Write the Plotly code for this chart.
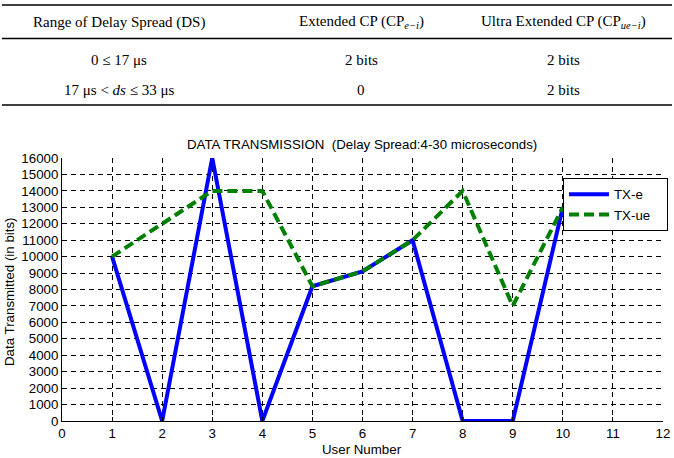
import plotly.graph_objects as go

# ---- data ----
users = [1, 2, 3, 4, 5, 6, 7, 8, 9, 10]
tx_e = [10000, 0, 16000, 0, 8200, 9100, 11000, 0, 0, 13000]
tx_ue = [10000, 12000, 14000, 14000, 8200, 9100, 11000, 14000, 7000, 13000]
x_ticks = list(range(0, 13))
y_ticks = list(range(0, 16001, 1000))
series_names = ["TX-e", "TX-ue"]

table_header = ["Range of Delay Spread (DS)", "Extended CP (CP<sub><i>e\u2212i</i></sub>)",
                "Ultra Extended CP (CP<sub><i>ue\u2212i</i></sub>)"]
table_rows = [["0 \u2264 17 \u03bcs", "2 bits", "2 bits"],
              ["17 \u03bcs < <i>ds</i> \u2264 33 \u03bcs", "0", "2 bits"]]

W, H = 674, 458
L, R, T, B = 62, 663, 158, 421  # plot area in pixels


def px(xp):
    return (xp - L) / (R - L)


def py(yp):
    return (B - yp) / (B - T)


pad = "\u00a0\u00a0\u00a0"
fig = go.Figure()
fig.add_trace(go.Scatter(x=users, y=tx_e, mode="lines", name=series_names[0] + pad,
                         line=dict(color="#0000ff", width=4)))
fig.add_trace(go.Scatter(x=users, y=tx_ue, mode="lines", name=series_names[1] + pad,
                         line=dict(color="#008000", width=4, dash="10px,5px")))

sans = "Liberation Sans, Arial, sans-serif"
serif = "Liberation Serif, Times New Roman, serif"
FS = 13.3

shapes = []
for yy in (5, 38.5, 105):
    shapes.append(dict(type="line", xref="paper", yref="paper",
                       x0=px(2), x1=px(672), y0=py(yy), y1=py(yy),
                       line=dict(color="black", width=1.3)))

annotations = []
col_x = [119, 361, 563]
for cx, txt in zip(col_x, table_header):
    annotations.append(dict(text=txt, x=px(cx), y=py(22), xref="paper", yref="paper",
                            showarrow=False, xanchor="center", yanchor="middle",
                            font=dict(family=serif, size=15, color="black")))
for ry, row in zip((60, 90), table_rows):
    for cx, txt in zip(col_x, row):
        annotations.append(dict(text=txt, x=px(cx), y=py(ry), xref="paper", yref="paper",
                                showarrow=False, xanchor="center", yanchor="middle",
                                font=dict(family=serif, size=15, color="black")))

annotations.append(dict(text="DATA TRANSMISSION&nbsp;&nbsp;(Delay Spread:4-30 microseconds)",
                        x=px(362), y=py(145), xref="paper", yref="paper",
                        showarrow=False, xanchor="center", yanchor="middle",
                        font=dict(family=sans, size=FS, color="black")))
annotations.append(dict(text="User Number", x=px(362), y=py(449), xref="paper", yref="paper",
                        showarrow=False, xanchor="center", yanchor="middle",
                        font=dict(family=sans, size=FS, color="black")))
annotations.append(dict(text="Data Transmitted (in bits)", x=px(9), y=py(292),
                        xref="paper", yref="paper", textangle=-90,
                        showarrow=False, xanchor="center", yanchor="middle",
                        font=dict(family=sans, size=FS, color="black")))

fig.update_layout(
    width=W, height=H,
    margin=dict(l=L, r=W - R, t=T, b=H - B, autoexpand=False),
    paper_bgcolor="white", plot_bgcolor="white",
    showlegend=True,
    legend=dict(x=px(563), y=py(178), xanchor="left", yanchor="top",
                bgcolor="white", bordercolor="black", borderwidth=1,
                font=dict(family=sans, size=FS, color="black"),
                tracegroupgap=0, itemwidth=40),
    shapes=shapes,
    annotations=annotations,
)
fig.update_xaxes(range=[0, 12], tickvals=x_ticks, ticktext=[str(v) for v in x_ticks],
                 automargin=False,
                 showgrid=True, gridcolor="black", griddash="5px,4px", gridwidth=1,
                 zeroline=False, showline=True, linecolor="black", linewidth=1,
                 ticks="inside", ticklen=4, tickcolor="black",
                 tickfont=dict(family=sans, size=FS, color="black"))
fig.update_yaxes(range=[0, 16000], tickvals=y_ticks, ticktext=[str(v) for v in y_ticks],
                 automargin=False,
                 showgrid=True, gridcolor="black", griddash="5px,4px", gridwidth=1,
                 zeroline=False, showline=True, linecolor="black", linewidth=1,
                 ticks="inside", ticklen=4, tickcolor="black",
                 tickfont=dict(family=sans, size=FS, color="black"))

fig.write_html("out.html")
